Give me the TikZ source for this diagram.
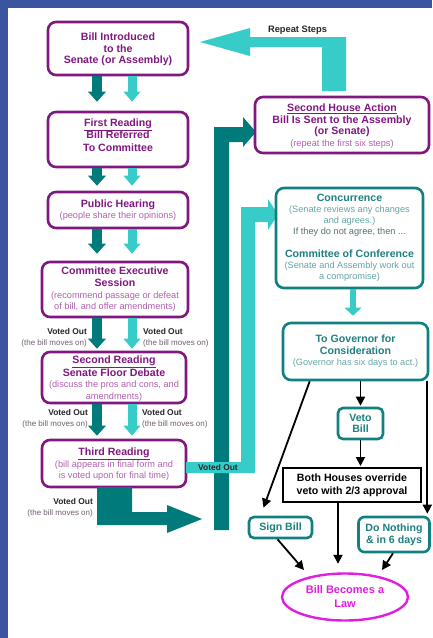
\documentclass[tikz,border=0pt]{standalone}
\usepackage{fontspec}
\setmainfont{Liberation Sans}
\usetikzlibrary{arrows.meta,shapes.geometric}
\definecolor{bgblue}{RGB}{58,84,160}
\definecolor{purp}{RGB}{128,24,128}
\definecolor{purpl}{RGB}{176,96,176}
\definecolor{tealb}{RGB}{16,128,128}
\definecolor{tealt}{RGB}{30,128,128}
\definecolor{teall}{RGB}{100,165,165}
\definecolor{tealdk}{RGB}{80,115,115}
\definecolor{dteal}{RGB}{0,122,122}
\definecolor{cyanA}{RGB}{56,204,200}
\definecolor{magA}{RGB}{224,30,224}
\definecolor{votegray}{RGB}{110,95,110}
\newcommand{\tsz}{\fontsize{10.6}{11.6}\selectfont\bfseries}
\newcommand{\ssz}{\fontsize{9.2}{11}\selectfont\mdseries}
\newcommand{\ps}[1]{{\ssz\color{purpl}#1}}
\newcommand{\ts}[1]{{\ssz\color{teall}#1}}
\newcommand{\vsub}{\fontsize{8}{10}\selectfont\mdseries\color{votegray}}
\tikzset{
  pbox/.style={draw=purp, line width=2.6pt, rounded corners=8pt, fill=white, text=purp, align=center, inner sep=0pt, font=\tsz},
  tbox/.style={draw=tealb, line width=2.6pt, rounded corners=8pt, fill=white, text=tealt, align=center, inner sep=0pt, font=\tsz},
  darr/.style={draw=dteal, line width=10pt, -{Triangle[width=18pt,length=10pt,line width=0pt]}},
  carr/.style={draw=cyanA, line width=9pt, -{Triangle[width=17pt,length=10pt,line width=0pt]}},
  carrs/.style={draw=cyanA, line width=6pt, -{Triangle[width=17pt,length=8pt,line width=0pt]}},
  barr/.style={draw=black, line width=1.8pt, -{Triangle[width=9pt,length=9pt]}},
  vote/.style={inner sep=0pt, font=\fontsize{8.4}{11}\selectfont\bfseries, text=black!85},
  dshape/.style={fill=dteal},
  cshape/.style={fill=cyanA}
}
\begin{document}
\begin{tikzpicture}[x=1pt,y=-1pt]
\useasboundingbox (0,0) rectangle (432,638);
\fill[bgblue] (0,0) rectangle (432,638);
\fill[white] (8,8) rectangle (432,638);

\coordinate (cL) at (97,0);
\coordinate (cR) at (132,0);

% left column boxes
\node[pbox, minimum width=140pt, minimum height=53pt, text depth=-2pt] (b1) at (118,48.5) {Bill Introduced\\to the\\Senate (or Assembly)};
\node[pbox, minimum width=140pt, minimum height=55pt, text depth=9pt, font=\fontsize{10.6}{12.4}\selectfont\bfseries] (b2) at (118,139.5) {\underline{First Reading}\\Bill Referred\\To Committee};
\node[pbox, minimum width=140pt, minimum height=36pt] (b3) at (118,210) {Public Hearing\\\ps{(people share their opinions)}};
\node[pbox, minimum width=146pt, minimum height=55pt] (b4) at (115,289.5) {Committee Executive\\Session\\\ps{(recommend passage or defeat}\\\ps{of bill, and offer amendments)}};
\node[pbox, minimum width=144pt, minimum height=51pt, text depth=-6pt] (b5) at (114,377.5) {\underline{Second Reading}\\Senate Floor Debate\\\ps{(discuss the pros and cons, and}\\\ps{amendments)}};
\node[pbox, minimum width=144pt, minimum height=47pt, text depth=-2pt] (b6) at (114,463.5) {\underline{Third Reading}\\\ps{(bill appears in final form and}\\\ps{is voted upon for final time)}};

% down arrows
\draw[darr, shorten >=9pt] (b1.south -| cL) -- (b2.north -| cL);
\draw[carr, shorten >=9pt] (b1.south -| cR) -- (b2.north -| cR);
\draw[darr, shorten >=5pt] (b2.south -| cL) -- (b3.north -| cL);
\draw[carr, shorten >=5pt] (b2.south -| cR) -- (b3.north -| cR);
\draw[darr, shorten >=7pt] (b3.south -| cL) -- (b4.north -| cL);
\draw[carr, shorten >=7pt] (b3.south -| cR) -- (b4.north -| cR);
\draw[darr, shorten >=2pt] (b4.south -| cL) -- (b5.north -| cL);
\draw[carr, shorten >=2pt] (b4.south -| cR) -- (b5.north -| cR);
\draw[darr, shorten >=3pt] (b5.south -| cL) -- (b6.north -| cL);
\draw[carr, shorten >=3pt] (b5.south -| cR) -- (b6.north -| cR);

% voted out labels
\node[vote, align=right, anchor=east] (v1) at (87,337.5) {Voted Out\\{\vsub (the bill moves on)}};
\node[vote, align=left, anchor=west] (v2) at (143,337.5) {Voted Out\\{\vsub (the bill moves on)}};
\node[vote, align=right, anchor=east] (v3) at (88,418.5) {Voted Out\\{\vsub (the bill moves on)}};
\node[vote, align=left, anchor=west] (v4) at (142,418.5) {Voted Out\\{\vsub (the bill moves on)}};
\node[vote, align=right, anchor=east] (v5) at (93,508) {Voted Out\\{\vsub (the bill moves on)}};

% big block arrows
\fill[dshape] (97,487) -- (132,487) -- (132,512) -- (167,512) -- (167,505) -- (202,519) -- (167,533) -- (167,525) -- (97,525) -- cycle;
\fill[dshape] (214,530) -- (214,127) -- (243,127) -- (243,117) -- (256,132) -- (243,147) -- (243,142) -- (229,142) -- (229,530) -- cycle;
\fill[cshape] (186,462) -- (241,462) -- (241,207) -- (268,207) -- (268,199) -- (278,214.5) -- (268,230) -- (268,222) -- (255,222) -- (255,473) -- (186,473) -- cycle;
\node[vote] (v6) at (218,467.5) {Voted Out};
\fill[cshape] (346,91) -- (346,37) -- (250,37) -- (250,28) -- (200,42) -- (250,56) -- (250,47) -- (322,47) -- (322,91) -- cycle;
\node[font=\fontsize{9.3}{11}\selectfont\bfseries, text=black!85, inner sep=0pt] (rs) at (297.5,30) {Repeat Steps};

% second house
\node[pbox, minimum width=174pt, minimum height=56pt, text depth=-2pt] (sh) at (342,125) {\underline{Second House Action}\\Bill Is Sent to the Assembly\\(or Senate)\\\ps{(repeat the first six steps)}};

% right column
\node[tbox, minimum width=147pt, minimum height=100pt, font=\fontsize{10.6}{11}\selectfont\bfseries] (conc) at (349.5,238) {Concurrence\\\ts{(Senate reviews any changes}\\\ts{and agrees.)}\\{\ssz\color{tealdk}If they do not agree, then ...}\\[12pt]Committee of Conference\\\ts{(Senate and Assembly work out}\\\ts{a compromise)}};
\node[tbox, minimum width=145pt, minimum height=57pt] (gov) at (355.5,351.5) {To Governor for\\Consideration\\\ts{(Governor has six days to act.)}};
\node[tbox, minimum width=45pt, minimum height=31pt, rounded corners=5pt] (veto) at (360.5,423.5) {Veto\\Bill};
\node[draw=black, line width=2pt, fill=white, minimum width=138pt, minimum height=34pt, font=\fontsize{10.6}{13}\selectfont\bfseries, align=center, inner sep=0pt] (both) at (352,485) {Both Houses override\\veto with 2/3 approval};
\node[tbox, minimum width=63pt, minimum height=21pt, rounded corners=5pt] (sign) at (280.5,527.5) {Sign Bill};
\node[tbox, minimum width=71pt, minimum height=35pt, rounded corners=6pt] (nothing) at (394,534.5) {Do Nothing\\\& in 6 days};
\node[ellipse, draw=magA, line width=2.4pt, fill=white, minimum width=126pt, minimum height=47pt, text depth=-6pt, text=magA, font=\fontsize{11}{14}\selectfont\bfseries, align=center, inner sep=0pt] (law) at (345,597) {Bill Becomes a\\Law};

\draw[carrs, shorten >=6pt] ([xshift=3.5pt]conc.south) -- ([xshift=3.5pt]conc.south |- gov.north);
\draw[barr, shorten >=1pt] (gov.south -| veto) -- (veto.north);
\draw[barr, shorten >=1pt] (veto.south) -- (veto.south |- both.north);
\draw[barr] ([xshift=28pt]gov.south west) -- ([xshift=-17pt,yshift=8pt]sign.north);
\draw[barr, shorten >=2pt] ([xshift=-2pt]gov.south east) -- ([xshift=-2pt]gov.south east |- nothing.north);
\draw[barr] ([xshift=-3pt]sign.south) -- ([xshift=-41pt,yshift=27pt]law.center);
\draw[barr, shorten >=8.5pt] ([xshift=-14pt]both.south) -- ([xshift=-14pt]both.south |- law.north);
\draw[barr] ([xshift=-1pt]nothing.south) -- ([xshift=37pt,yshift=27pt]law.center);
\end{tikzpicture}
\end{document}
